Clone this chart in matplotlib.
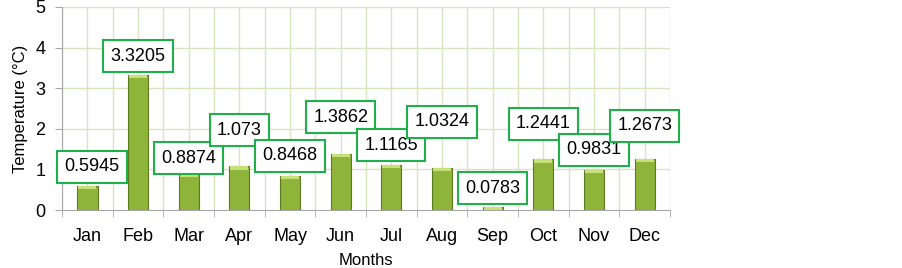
import numpy as np
import matplotlib.pyplot as plt

# Datos
meses = ['Jan', 'Feb', 'Mar', 'Apr', 'May', 'Jun', 'Jul', 'Aug', 'Sep', 'Oct', 'Nov', 'Dec']
valores = [0.5945, 3.3205, 0.8874, 1.073, 0.8468, 1.3862, 1.1165, 1.0324, 0.0783, 1.2441, 0.9831, 1.2673]
etiquetas = ['0.5945', '3.3205', '0.8874', '1.073', '0.8468', '1.3862', '1.1165', '1.0324', '0.0783', '1.2441', '0.9831', '1.2673']
# altura de las cajas de etiqueta (en unidades del eje y)
pos_etiqueta = [1.06, 3.79, 1.28, 1.97, 1.33, 2.29, 1.60, 2.17, 0.54, 2.12, 1.48, 2.07]
desp_etiqueta = [0.09, 0, 0, 0, 0, 0, 0, 0, 0, 0, 0, 0]

plt.rcParams['font.family'] = ['Liberation Sans', 'DejaVu Sans']

fig = plt.figure(figsize=(9.03, 2.68), dpi=100)
ax = fig.add_axes([0.0687, 0.2164, 0.6733, 0.7576])

x = np.arange(len(meses))
color_grid = '#d7e4bd'

# rejilla
for v in np.arange(-0.5, 12, 0.5):
    ax.axvline(v, color=color_grid, lw=1.0, zorder=0)
for h in range(1, 6):
    ax.axhline(h, color=color_grid, lw=1.0, zorder=0)

# barras
ax.bar(x, valores, width=0.4, color='#8fb43a', edgecolor='#5f7a22', linewidth=0.8, zorder=2)
# brillo superior
ax.bar(x, [min(0.08, v) for v in valores], bottom=[v - min(0.08, v) for v in valores],
       width=0.36, color='#c6e07a', edgecolor='none', zorder=3)

for i in range(len(meses)):
    ax.text(x[i] + desp_etiqueta[i], pos_etiqueta[i], etiquetas[i], ha='center', va='center',
            fontsize=13, zorder=5,
            bbox=dict(boxstyle='square,pad=0.4', facecolor='white', edgecolor='#1fb04b', linewidth=1.5))

ax.set_xlim(-0.5, 11.5)
ax.set_ylim(0, 5)
ax.set_xticks(x)
ax.set_xticklabels(meses, fontsize=13)
ax.set_xticks(np.arange(-0.5, 12, 1), minor=True)
ax.tick_params(axis='x', which='major', length=0, pad=13)
ax.tick_params(axis='x', which='minor', length=5, color='#a6a6a6', direction='out')
ax.set_yticks(range(6))
ax.tick_params(axis='y', labelsize=13, length=5, pad=7, color='#a6a6a6')

for s in ['top', 'right']:
    ax.spines[s].set_visible(False)
ax.spines['left'].set_color('#a6a6a6')
ax.spines['bottom'].set_color('#a6a6a6')

ax.set_xlabel('Months', fontsize=12, labelpad=6)
ax.set_ylabel('Temperature (°C)', fontsize=12, labelpad=5)

fig.savefig('out.png', dpi=100)
